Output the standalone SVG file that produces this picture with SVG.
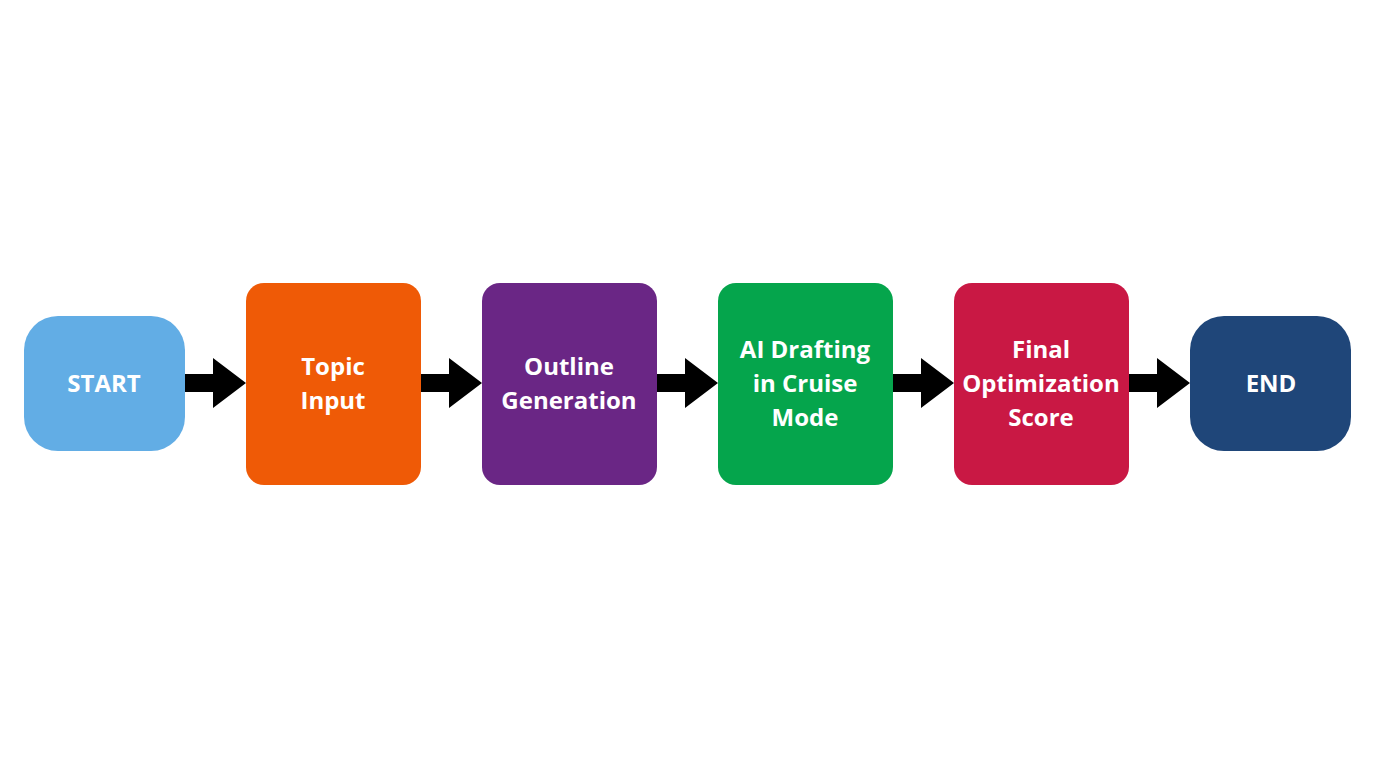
<svg xmlns="http://www.w3.org/2000/svg" width="1376" height="768" viewBox="0 0 1376 768">
<style>
.t{font-family:"Open Sans","Noto Sans",sans-serif;font-weight:bold;font-size:24px;fill:#fff;text-anchor:middle}
.a{fill:#000}
</style>
<rect width="1376" height="768" fill="#fff"/>
<g id="start"><rect x="24" y="316" width="161" height="135" rx="34" fill="#62ade5"/><text class="t" x="104" y="392">START</text></g>
<g id="topic"><rect x="246" y="283" width="175" height="202" rx="18" fill="#ef5a06"/><text class="t" x="333" y="375">Topic</text><text class="t" x="333" y="409">Input</text></g>
<g id="outline"><rect x="482" y="283" width="175" height="202" rx="18" fill="#6a2685"/><text class="t" x="569" y="375">Outline</text><text class="t" x="569" y="409">Generation</text></g>
<g id="draft"><rect x="718" y="283" width="175" height="202" rx="18" fill="#05a54c"/><text class="t" x="805" y="358">AI Drafting</text><text class="t" x="805" y="392">in Cruise</text><text class="t" x="805" y="426">Mode</text></g>
<g id="final"><rect x="954" y="283" width="175" height="202" rx="18" fill="#c91844"/><text class="t" x="1041" y="358">Final</text><text class="t" x="1041" y="392">Optimization</text><text class="t" x="1041" y="426">Score</text></g>
<g id="end"><rect x="1190" y="316" width="161" height="135" rx="34" fill="#1f4679"/><text class="t" x="1271" y="392">END</text></g>
<g id="connectors">
<polygon class="a" points="185,374 213,374 213,358 246,383 213,408 213,392 185,392"/>
<polygon class="a" points="421,374 449,374 449,358 482,383 449,408 449,392 421,392"/>
<polygon class="a" points="657,374 685,374 685,358 718,383 685,408 685,392 657,392"/>
<polygon class="a" points="893,374 921,374 921,358 954,383 921,408 921,392 893,392"/>
<polygon class="a" points="1129,374 1157,374 1157,358 1190,383 1157,408 1157,392 1129,392"/>
</g>
</svg>
